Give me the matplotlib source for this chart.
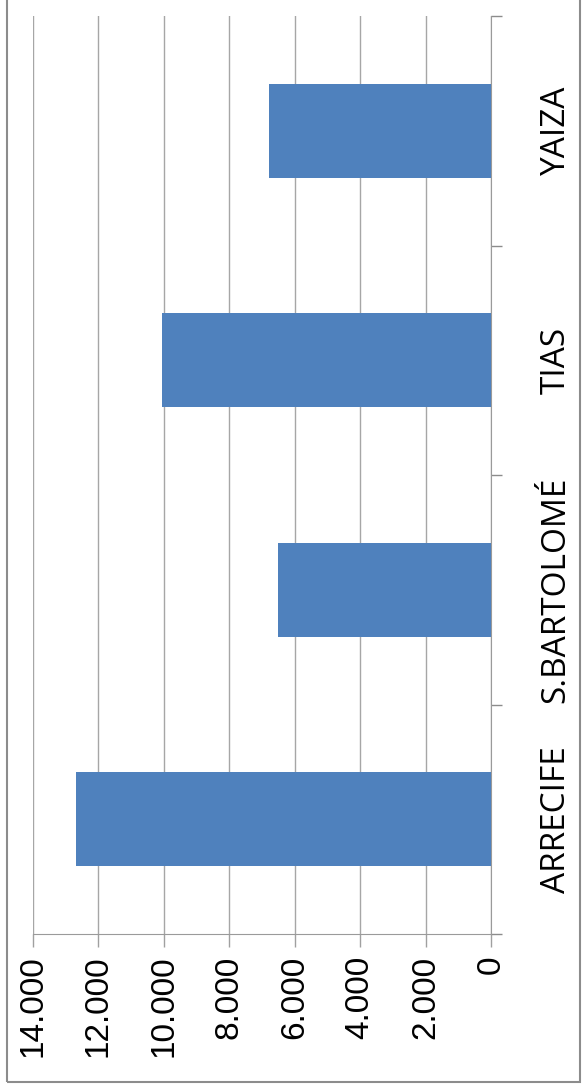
import matplotlib
matplotlib.use("Agg")
import matplotlib.pyplot as plt
from matplotlib.ticker import FuncFormatter, FixedLocator
from matplotlib.patches import Rectangle

municipios = ["ARRECIFE", "S.BARTOLOMÉ", "TIAS", "YAIZA"]
valores = [12690, 6510, 10060, 6790]
ticks_valor = [0, 2000, 4000, 6000, 8000, 10000, 12000, 14000]

W, H = 586, 1092
fig = plt.figure(figsize=(W / 100, H / 100), dpi=100)
ax = fig.add_axes([33 / W, 1 - 934 / H, 458 / W, 918 / H])

pos = list(range(len(municipios)))
ax.barh(pos, valores, height=0.41, color="#4F81BD", zorder=3)

ax.set_xlim(14000, 0)
ax.set_ylim(-0.5, len(municipios) - 0.5)

# value axis (bottom, rotated labels)
ax.set_xticks(ticks_valor)
ax.xaxis.set_major_formatter(FuncFormatter(lambda v, p: f"{int(v):,}".replace(",", ".")))
ax.tick_params(axis="x", direction="out", length=9.4, width=1, color="#a0a0a0", pad=6)
for lab in ax.get_xticklabels():
    lab.set_rotation(90)
    lab.set_family("Liberation Sans")
    lab.set_fontsize(24)
ax.grid(axis="x", color="#a6a6a6", lw=1, zorder=0)

# category axis (right side)
ax.yaxis.tick_right()
ax.set_yticks(pos)
ax.set_yticklabels(municipios, rotation=90, family="Open Sans", fontsize=24,
                   ha="left", va="center")
ax.yaxis.set_minor_locator(FixedLocator([p - 0.5 for p in pos] + [len(pos) - 0.5]))
ax.tick_params(axis="y", which="major", length=0, pad=35)
ax.tick_params(axis="y", which="minor", direction="out", length=8, width=1, color="#8c8c8c")

for s in ["left", "top"]:
    ax.spines[s].set_visible(False)
ax.spines["right"].set_color("#9a9a9a")
ax.spines["bottom"].set_color("#9a9a9a")

# chart frame
fig.patches.append(Rectangle((7 / W, 1 - 1082 / H), 573 / W, 1082 / H + 0.02,
                             transform=fig.transFigure, fill=False,
                             edgecolor="#8c8c8c", lw=1.5))

fig.savefig("out.png", dpi=100)
